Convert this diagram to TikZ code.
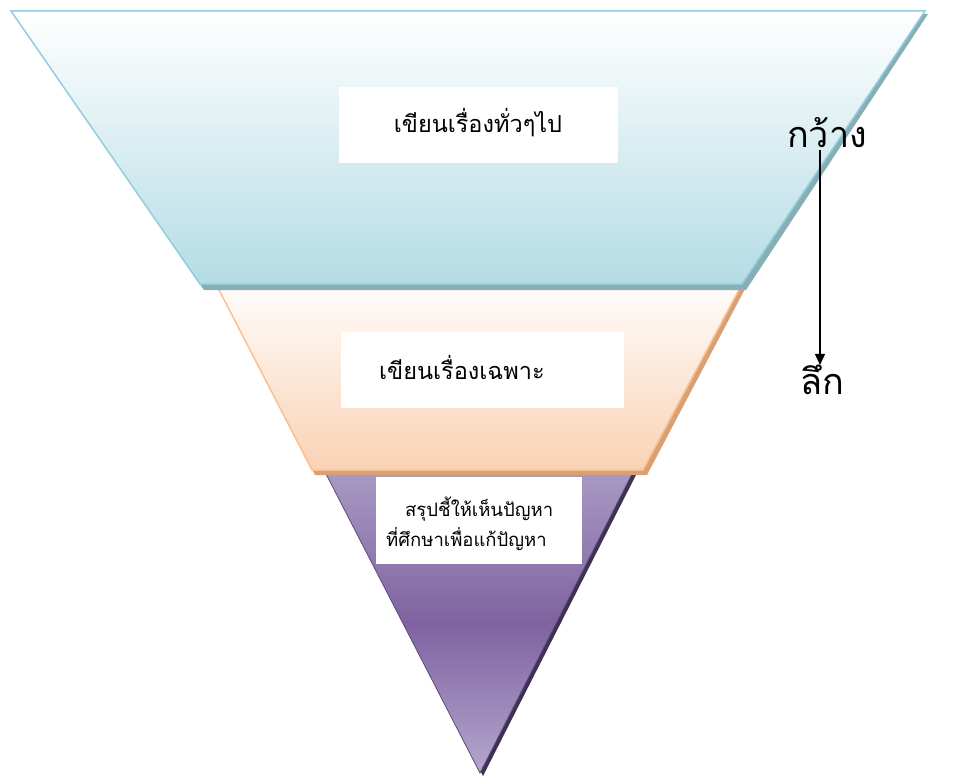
\documentclass[tikz,border=0pt]{standalone}
\usepackage{fontspec}
\newfontfamily\thaifont[Script=Thai]{Loma}
\usetikzlibrary{arrows.meta}
\definecolor{bluetop}{HTML}{FFFFFF}
\definecolor{bluebot}{HTML}{B4DCE5}
\definecolor{blueline}{HTML}{93CDDD}
\definecolor{blueshadow}{HTML}{88AEB5}
\definecolor{orgtop}{HTML}{FFFCFA}
\definecolor{orgbot}{HTML}{F9D2B4}
\definecolor{orgline}{HTML}{FAC090}
\definecolor{orgshadow}{HTML}{D9A074}
\definecolor{purtop}{HTML}{A899C3}
\definecolor{purmid}{HTML}{7F63A1}
\definecolor{purbot}{HTML}{B3A6CD}
\definecolor{purline}{HTML}{5F497A}
\definecolor{purshadow}{HTML}{3F3152}
\tikzset{
  whitebox/.style={fill=white, draw=none, inner sep=0pt},
  boxtext/.style={font=\thaifont\fontsize{23.5}{28}\selectfont, inner sep=0pt, text=black},
  bigtext/.style={font=\thaifont\fontsize{36}{40}\selectfont, inner sep=0pt, text=black},
}
\begin{document}
\begin{tikzpicture}[x=1pt,y=-1pt]
\useasboundingbox (0,0) rectangle (970,784);
% bottom triangle
\fill[purshadow] (328,475) -- (636,475) -- (483,776) -- cycle;
\shade[top color=purtop, bottom color=purbot, middle color=purmid, draw=purline, line width=0.8pt]
  (325,472) -- (633,472) -- (480,773) -- cycle;
% middle trapezoid
\fill[orgshadow] (220,289) -- (745,289) -- (647,475) -- (315,475) -- cycle;
\shade[top color=orgtop, bottom color=orgbot, draw=orgline, line width=1.5pt]
  (217,286) -- (741,286) -- (643,470) -- (312,470) -- cycle;
% top trapezoid
\fill[blueshadow] (14,14) -- (928,14) -- (746,290) -- (204,290) -- cycle;
\shade[top color=bluetop, bottom color=bluebot, draw=blueline, line width=1.5pt]
  (11,11) -- (925,11) -- (742,284) -- (200,284) -- cycle;
% text boxes
\node[whitebox, minimum width=279pt, minimum height=76pt] (box1) at (478.5,125) {};
\node[boxtext] (t1) at (478,123) {เขียนเรื่องทั่วๆไป};
\node[whitebox, minimum width=283pt, minimum height=76pt] (box2) at (482.5,370) {};
\node[boxtext, anchor=west] (t2) at (379,367) {เขียนเรื่องเฉพาะ};
\node[whitebox, minimum width=206pt, minimum height=87pt] (box3) at (479,520.5) {};
\node[boxtext, anchor=west, align=left, font=\thaifont\fontsize{18.5}{30}\selectfont] (t3) at (386,524)
  {\hspace*{19pt}สรุปชี้ให้เห็นปัญหา\\ที่ศึกษาเพื่อแก้ปัญหา};
% side arrow
\node[bigtext] (kwang) at (827,133) {กว้าง};
\node[bigtext] (luek) at (822,380) {ลึก};
\draw[line width=1.6pt, -{Triangle[length=11pt,width=10pt]}] (kwang.south -| luek.north) ++(-2,2) coordinate (a0) -- (a0 |- luek.north) coordinate (a1);
\end{tikzpicture}
\end{document}
